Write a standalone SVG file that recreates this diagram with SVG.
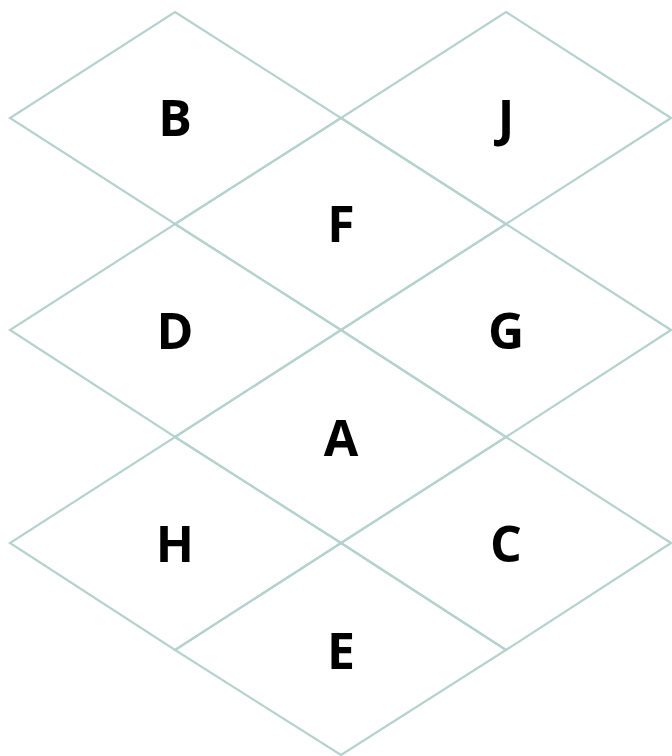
<svg xmlns="http://www.w3.org/2000/svg" width="672" height="756" viewBox="0 0 672 756">
<style>
.d{fill:none;stroke:#b5d2ce;stroke-width:2.2;stroke-linejoin:miter}
.t{font-family:"Open Sans","Liberation Sans",sans-serif;font-weight:700;font-size:50px;fill:#000;text-anchor:middle}
</style>
<rect width="672" height="756" fill="#fff"/>
<g id="B"><polygon class="d" points="175,12 341,118 175,224 10,118"/><text class="t" x="175" y="136">B</text></g>
<g id="J"><polygon class="d" points="506,12 671,118 506,224 341,118"/><text class="t" x="506" y="136">J</text></g>
<g id="F"><polygon class="d" points="341,118 506,224 341,330 175,224"/><text class="t" x="341" y="242">F</text></g>
<g id="D"><polygon class="d" points="175,224 341,330 175,437 10,330"/><text class="t" x="175" y="349">D</text></g>
<g id="G"><polygon class="d" points="506,224 671,330 506,437 341,330"/><text class="t" x="506" y="349">G</text></g>
<g id="A"><polygon class="d" points="341,330 506,437 341,543 175,437"/><text class="t" x="341" y="456">A</text></g>
<g id="H"><polygon class="d" points="175,437 341,543 175,650 10,543"/><text class="t" x="175" y="562">H</text></g>
<g id="C"><polygon class="d" points="506,437 671,543 506,650 341,543"/><text class="t" x="506" y="562">C</text></g>
<g id="E"><polygon class="d" points="341,543 506,650 341,755 175,650"/><text class="t" x="341" y="669">E</text></g>
<g id="connectors"></g>
</svg>
